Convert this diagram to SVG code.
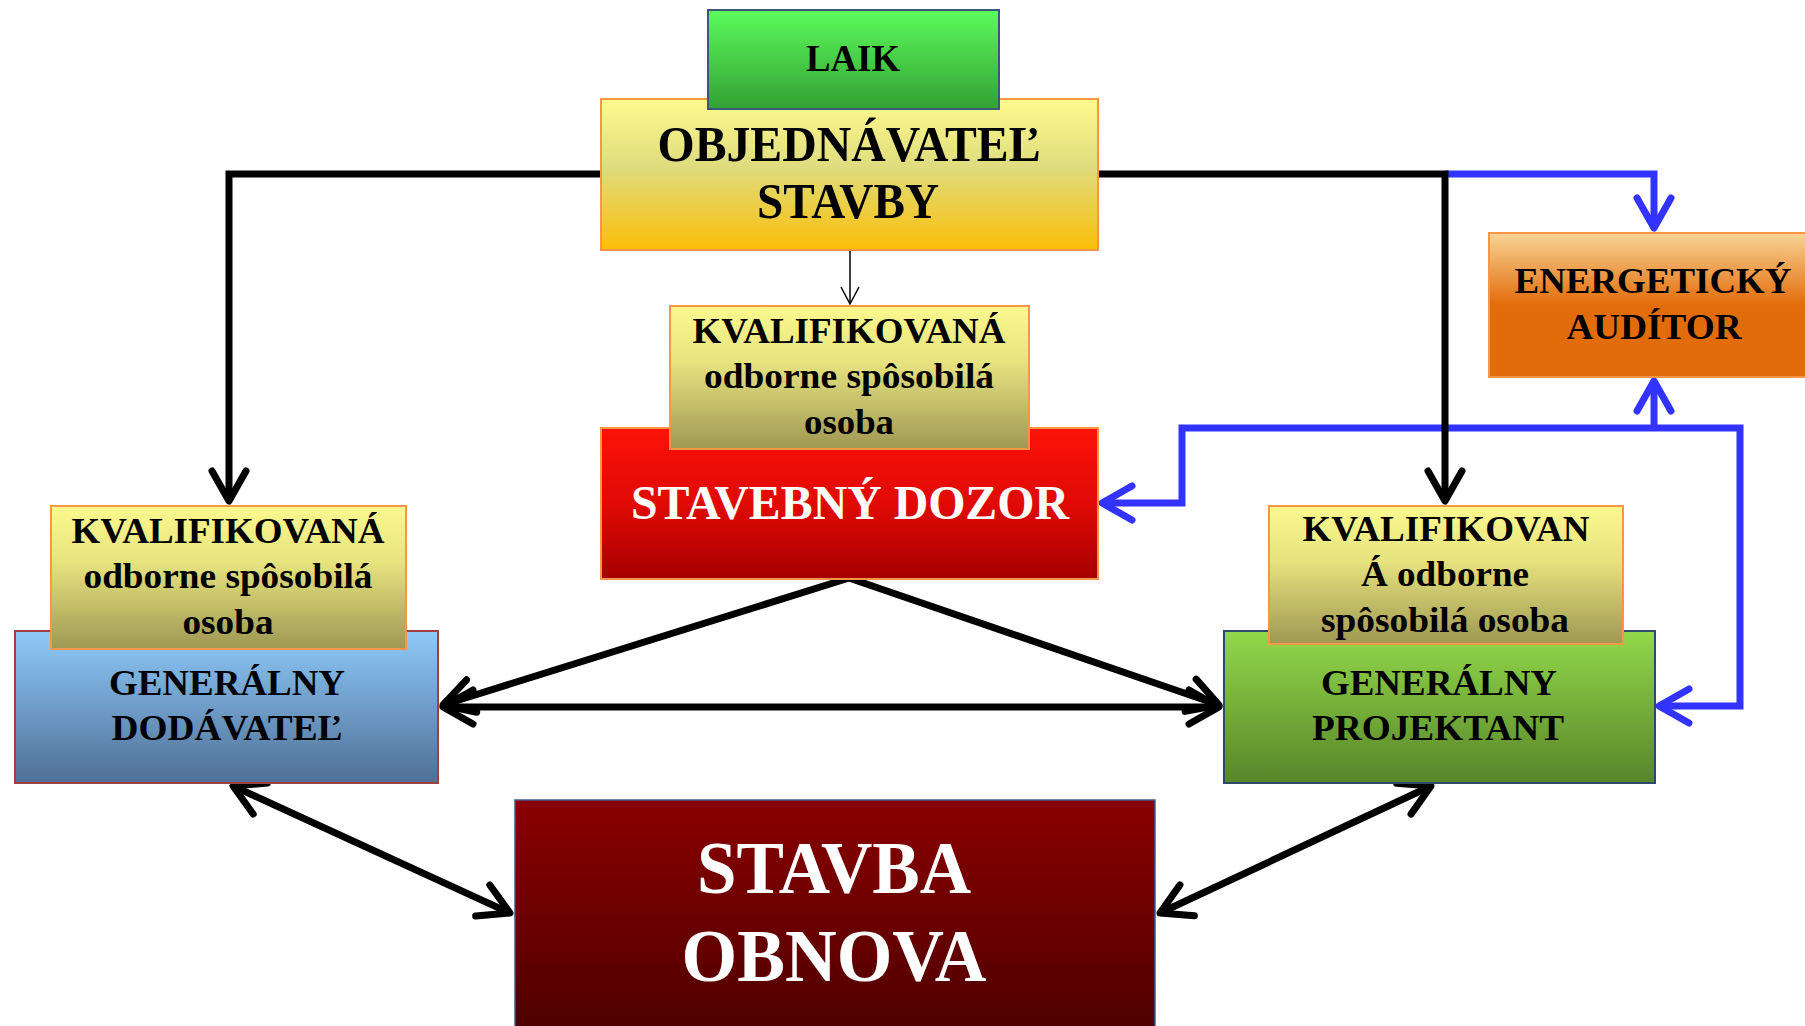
<svg xmlns="http://www.w3.org/2000/svg" width="1805" height="1026" viewBox="0 0 1805 1026">
<defs>
<style>
text{font-family:"Liberation Serif","Times New Roman",serif;font-weight:bold;text-anchor:middle;fill:#000}
.w{fill:#fff}
.k{stroke:#000;stroke-width:7;fill:none}
.b{stroke:#3333FF;stroke-width:7;fill:none}
.box{stroke-width:2}
</style>
<linearGradient id="gLaik" x1="0" y1="0" x2="0" y2="1"><stop offset="0" stop-color="#5CFB5C"/><stop offset="1" stop-color="#33A033"/></linearGradient>
<linearGradient id="gObj" x1="0" y1="0" x2="0" y2="1"><stop offset="0" stop-color="#FFFA8E"/><stop offset="0.45" stop-color="#DEDC7E"/><stop offset="1" stop-color="#FBBE08"/></linearGradient>
<linearGradient id="gKval" x1="0" y1="0" x2="0" y2="1"><stop offset="0" stop-color="#FBF98E"/><stop offset="0.4" stop-color="#E6E27E"/><stop offset="1" stop-color="#9E9852"/></linearGradient>
<linearGradient id="gSd" x1="0" y1="0" x2="0" y2="1"><stop offset="0" stop-color="#FC1209"/><stop offset="0.5" stop-color="#E00A05"/><stop offset="1" stop-color="#A80000"/></linearGradient>
<linearGradient id="gGd" x1="0" y1="0" x2="0" y2="1"><stop offset="0" stop-color="#8ECAFA"/><stop offset="1" stop-color="#4F6F96"/></linearGradient>
<linearGradient id="gGp" x1="0" y1="0" x2="0" y2="1"><stop offset="0" stop-color="#92D84A"/><stop offset="1" stop-color="#58862A"/></linearGradient>
<linearGradient id="gEa" x1="0" y1="0" x2="0" y2="1"><stop offset="0" stop-color="#F8D496"/><stop offset="0.5" stop-color="#E36C0A"/><stop offset="1" stop-color="#E36C0A"/></linearGradient>
<linearGradient id="gSt" x1="0" y1="0" x2="0" y2="1"><stop offset="0" stop-color="#8A0000"/><stop offset="1" stop-color="#4C0000"/></linearGradient>
<marker id="ak" markerUnits="userSpaceOnUse" markerWidth="60" markerHeight="60" refX="0" refY="0" orient="auto-start-reverse" overflow="visible">
<path d="M-30,-17 L0,0 L-30,17" fill="none" stroke="#000" stroke-width="7" stroke-linecap="round" stroke-linejoin="round"/>
</marker>
<marker id="ab" markerUnits="userSpaceOnUse" markerWidth="60" markerHeight="60" refX="0" refY="0" orient="auto-start-reverse" overflow="visible">
<path d="M-30,-17 L0,0 L-30,17" fill="none" stroke="#3333FF" stroke-width="7" stroke-linecap="round" stroke-linejoin="round"/>
</marker>
<marker id="at" markerUnits="userSpaceOnUse" markerWidth="30" markerHeight="30" refX="0" refY="0" orient="auto" overflow="visible">
<path d="M-17,-9 L0,0 L-17,9" fill="none" stroke="#000" stroke-width="1.5"/>
</marker>
</defs>

<g id="connectors">
<path class="b" d="M1445,174 H1654 V228" marker-end="url(#ab)"/>
<path class="b" d="M1654,428 V381" marker-end="url(#ab)"/>
<path class="b" d="M1102,503 H1182 V428 H1740 V706 H1659" marker-start="url(#ab)" marker-end="url(#ab)"/>
<path class="k" d="M601,174 H229 V501" marker-end="url(#ak)"/>
<path class="k" d="M1098,174 H1445 V501" marker-end="url(#ak)"/>
<path d="M850,250 V304" stroke="#000" stroke-width="1.5" fill="none" marker-end="url(#at)"/>
<path class="k" d="M849,578 L443,705" marker-end="url(#ak)"/>
<path class="k" d="M849,578 L1219,705" marker-end="url(#ak)"/>
<path class="k" d="M443,707 H1219" marker-start="url(#ak)" marker-end="url(#ak)"/>
<path class="k" d="M233,786 L510,913" marker-start="url(#ak)" marker-end="url(#ak)"/>
<path class="k" d="M1431,786 L1160,913" marker-start="url(#ak)" marker-end="url(#ak)"/>
</g>

<g id="objednavatel">
<rect class="box" x="601" y="99" width="497" height="151" fill="url(#gObj)" stroke="#F79646"/>
<text x="849" y="161" font-size="50" textLength="383" lengthAdjust="spacingAndGlyphs">OBJEDNÁVATEĽ</text>
<text x="848" y="218" font-size="50" textLength="182" lengthAdjust="spacingAndGlyphs">STAVBY</text>
</g>
<g id="laik">
<rect class="box" x="708" y="10" width="291" height="99" fill="url(#gLaik)" stroke="#3B5878"/>
<text x="853" y="71" font-size="37" textLength="94" lengthAdjust="spacingAndGlyphs">LAIK</text>
</g>

<g id="stavebny-dozor">
<rect class="box" x="601" y="428" width="497" height="151" fill="url(#gSd)" stroke="#F79646"/>
<text class="w" x="850" y="519" font-size="48" textLength="438" lengthAdjust="spacingAndGlyphs">STAVEBNÝ DOZOR</text>
</g>
<g id="kval-dozor">
<rect class="box" x="670" y="306" width="359" height="143" fill="url(#gKval)" stroke="#F79646"/>
<text x="849" y="343" font-size="36" textLength="313" lengthAdjust="spacingAndGlyphs">KVALIFIKOVANÁ</text>
<text x="849" y="388" font-size="36" textLength="290" lengthAdjust="spacingAndGlyphs">odborne spôsobilá</text>
<text x="849" y="434" font-size="36" textLength="90" lengthAdjust="spacingAndGlyphs">osoba</text>
</g>

<g id="generalny-dodavatel">
<rect class="box" x="15" y="631" width="423" height="152" fill="url(#gGd)" stroke="#A04040"/>
<text x="227" y="695" font-size="35" textLength="236" lengthAdjust="spacingAndGlyphs">GENERÁLNY</text>
<text x="227" y="740" font-size="35" textLength="231" lengthAdjust="spacingAndGlyphs">DODÁVATEĽ</text>
</g>
<g id="kval-dodavatel">
<rect class="box" x="51" y="506" width="355" height="143" fill="url(#gKval)" stroke="#F79646"/>
<text x="228" y="543" font-size="36" textLength="313" lengthAdjust="spacingAndGlyphs">KVALIFIKOVANÁ</text>
<text x="228" y="588" font-size="36" textLength="289" lengthAdjust="spacingAndGlyphs">odborne spôsobilá</text>
<text x="228" y="634" font-size="36" textLength="91" lengthAdjust="spacingAndGlyphs">osoba</text>
</g>

<g id="generalny-projektant">
<rect class="box" x="1224" y="631" width="431" height="152" fill="url(#gGp)" stroke="#2E4A6A"/>
<text x="1439" y="695" font-size="35" textLength="236" lengthAdjust="spacingAndGlyphs">GENERÁLNY</text>
<text x="1438" y="740" font-size="35" textLength="252" lengthAdjust="spacingAndGlyphs">PROJEKTANT</text>
</g>
<g id="kval-projektant">
<rect class="box" x="1269" y="506" width="354" height="138" fill="url(#gKval)" stroke="#F79646"/>
<text x="1446" y="541" font-size="36" textLength="287" lengthAdjust="spacingAndGlyphs">KVALIFIKOVAN</text>
<text x="1445" y="586" font-size="36" textLength="168" lengthAdjust="spacingAndGlyphs">Á odborne</text>
<text x="1445" y="632" font-size="36" textLength="248" lengthAdjust="spacingAndGlyphs">spôsobilá osoba</text>
</g>

<g id="energeticky-auditor">
<rect class="box" x="1489" y="233" width="330" height="144" fill="url(#gEa)" stroke="#F79646"/>
<text x="1653" y="293" font-size="35" textLength="277" lengthAdjust="spacingAndGlyphs">ENERGETICKÝ</text>
<text x="1654" y="339" font-size="35" textLength="175" lengthAdjust="spacingAndGlyphs">AUDÍTOR</text>
</g>

<g id="stavba-obnova">
<rect x="515" y="800" width="640" height="240" fill="url(#gSt)" stroke="#385D8A" stroke-width="1.5"/>
<text class="w" x="834" y="893" font-size="75" textLength="274" lengthAdjust="spacingAndGlyphs">STAVBA</text>
<text class="w" x="834" y="981" font-size="75" textLength="305" lengthAdjust="spacingAndGlyphs">OBNOVA</text>
</g>
</svg>
